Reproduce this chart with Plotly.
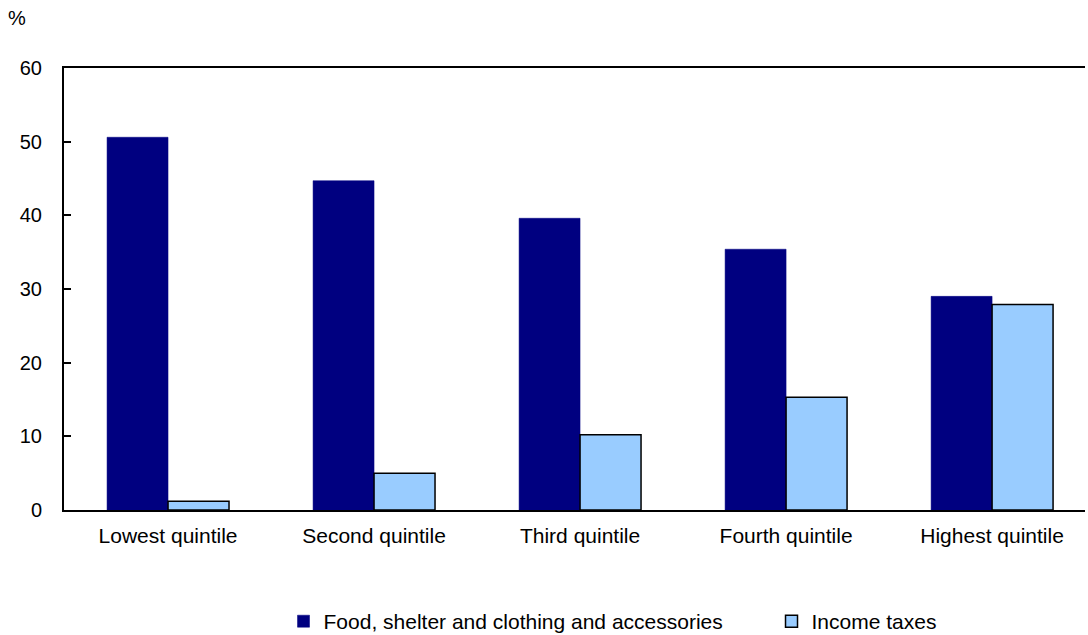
import plotly.graph_objects as go

categories = ["Lowest quintile", "Second quintile", "Third quintile", "Fourth quintile", "Highest quintile"]
food_shelter_clothing = [50.6, 44.7, 39.6, 35.4, 29.0]
income_taxes = [1.2, 5.0, 10.2, 15.3, 27.9]

fig = go.Figure()
fig.add_trace(go.Bar(
    x=categories, y=food_shelter_clothing,
    name="Food, shelter and clothing and accessories",
    marker=dict(color="#000080", line=dict(color="#000080", width=0.5)),
))
fig.add_trace(go.Bar(
    x=categories, y=income_taxes,
    name="Income taxes",
    marker=dict(color="#99ccff", line=dict(color="#000000", width=1.5)),
))

font_family = "Liberation Sans, Arial, sans-serif"
fig.update_layout(
    barmode="group",
    bargap=0.408,
    bargroupgap=0,
    width=1088, height=635,
    margin=dict(l=64, r=3, t=68, b=125, autoexpand=False),
    plot_bgcolor="white",
    paper_bgcolor="white",
    font=dict(family=font_family, size=20, color="black"),
    showlegend=True,
    legend=dict(
        orientation="h",
        x=0.215, xanchor="left",
        y=-0.206, yanchor="top",
        font=dict(size=21),
        entrywidth=443, entrywidthmode="pixels",
        traceorder="normal",
    ),
    xaxis=dict(
        range=[-0.505, 4.451],
        showline=True, linecolor="black", linewidth=2,
        mirror=True, automargin=False,
        ticks="", showgrid=False,
        tickfont=dict(size=21),
        ticklabelstandoff=6,
    ),
    yaxis=dict(
        range=[0, 60], automargin=False,
        tickvals=[0, 10, 20, 30, 40, 50, 60],
        showline=True, linecolor="black", linewidth=2,
        ticks="inside", ticklen=7, tickwidth=2, tickcolor="black",
        showgrid=False, zeroline=False,
        tickfont=dict(size=20),
        ticklabelstandoff=16,
    ),
    annotations=[dict(
        text="%", x=0, y=1, xref="paper", yref="paper",
        xshift=-58, yshift=50, showarrow=False, xanchor="left", yanchor="middle",
        font=dict(size=20),
    )],
)

fig.write_html(
    "out.html",
    config={"displayModeBar": False},
    post_script="document.body.style.margin='0';document.body.style.overflow='hidden';",
)
